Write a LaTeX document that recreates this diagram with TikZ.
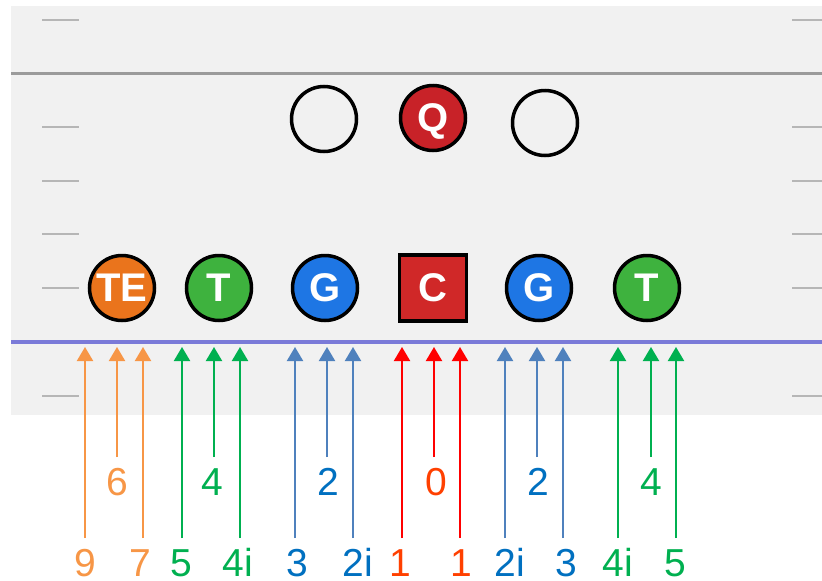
\documentclass[tikz,border=0pt]{standalone}
\usepackage{fontspec}
\setmainfont{Liberation Sans}
\usetikzlibrary{arrows.meta}

% field and line colours
\definecolor{field}{RGB}{241,241,241}
\definecolor{yardline}{RGB}{155,155,155}
\definecolor{hashmark}{RGB}{182,182,182}
\definecolor{scrimmage}{RGB}{122,122,216}
% player fills
\definecolor{teorange}{RGB}{234,116,28}
\definecolor{tackgreen}{RGB}{62,178,62}
\definecolor{guardblue}{RGB}{30,118,228}
\definecolor{centerred}{RGB}{208,40,40}
\definecolor{qbred}{RGB}{200,34,40}
% gap arrows and numbers
\definecolor{gaporange}{RGB}{247,150,70}
\definecolor{gapgreen}{RGB}{0,176,80}
\definecolor{gapblue}{RGB}{79,129,189}
\definecolor{gapbluetext}{RGB}{0,112,192}
\definecolor{gapred}{RGB}{255,0,0}
\definecolor{gapredtext}{RGB}{255,64,0}

\begin{document}
\begin{tikzpicture}[x=1pt,y=-1pt,
  player/.style={circle, draw=black, line width=3.5pt, minimum size=65pt,
    inner sep=0pt, text=white, text depth=0pt,
    font=\fontsize{40}{44}\selectfont\bfseries},
  emptyspot/.style={circle, draw=black, line width=3.5pt, minimum size=65pt, inner sep=0pt},
  centerbox/.style={rectangle, draw=black, line width=3.5pt, minimum width=67pt,
    minimum height=66pt, inner sep=0pt, text=white, text depth=0pt,
    font=\fontsize{40}{44}\selectfont\bfseries},
  gaplabel/.style={inner sep=0pt, outer xsep=0pt, outer ysep=10pt, text height=28pt,
    text depth=0pt, anchor=base, font=\fontsize{39}{44}\selectfont},
  gaparrow/.style={line width=2pt, -{Triangle[width=16pt,length=14pt]}},
  hash/.style={draw=hashmark, line width=2pt},
]
\useasboundingbox (0,0) rectangle (822,581);
\fill[white] (0,0) rectangle (822,581);

% field
\fill[field] (11,6) rectangle (822,415);
\foreach \y in {20,127,181,234,288,396} {
  \draw[hash] (42,\y) -- (79,\y);
  \draw[hash] (792,\y) -- (822,\y);
}
\draw[yardline, line width=3pt] (11,73) -- (822,73);
\draw[scrimmage, line width=4.5pt] (11,342) -- (822,342);

% backfield
\node[emptyspot] (backl) at (324,119) {};
\node[player, fill=qbred] (qb) at (433,118) {Q};
\node[emptyspot] (backr) at (545,123) {};

% offensive line
\node[player, fill=teorange] (te) at (122,288) {TE};
\node[player, fill=tackgreen] (ltackle) at (219,288) {T};
\node[player, fill=guardblue] (lguard) at (325,288) {G};
\node[centerbox, fill=centerred] (center) at (433,288) {C};
\node[player, fill=guardblue] (rguard) at (539,288) {G};
\node[player, fill=tackgreen] (rtackle) at (647,288) {T};

% gap numbers with arrows up to the line
\foreach \n/\lx/\ax/\ly/\ac/\tc/\txt in {
  1/85/85/576/gaporange/gaporange/9,
  2/117/117/495/gaporange/gaporange/6,
  3/140/143/576/gaporange/gaporange/7,
  4/181/182/576/gapgreen/gapgreen/5,
  5/212/214/495/gapgreen/gapgreen/4,
  6/238/240/576/gapgreen/gapgreen/4i,
  7/297/295/576/gapblue/gapbluetext/3,
  8/328/327/495/gapblue/gapbluetext/2,
  9/358/353/576/gapblue/gapbluetext/2i,
  10/400/402/576/gapred/gapredtext/1,
  11/436/434/495/gapred/gapredtext/0,
  12/461/460/576/gapred/gapredtext/1,
  13/510/505/576/gapblue/gapbluetext/2i,
  14/538/537/495/gapblue/gapbluetext/2,
  15/566/563/576/gapblue/gapbluetext/3,
  16/618/618/576/gapgreen/gapgreen/4i,
  17/651/651/495/gapgreen/gapgreen/4,
  18/675/676/576/gapgreen/gapgreen/5} {
  \coordinate (tip\n) at (\ax,347);
  \node[gaplabel, text=\tc] (gap\n) at (\lx,\ly) {\txt};
  \draw[gaparrow, \ac] (gap\n.north -| tip\n) -- (tip\n);
}
\end{tikzpicture}
\end{document}
